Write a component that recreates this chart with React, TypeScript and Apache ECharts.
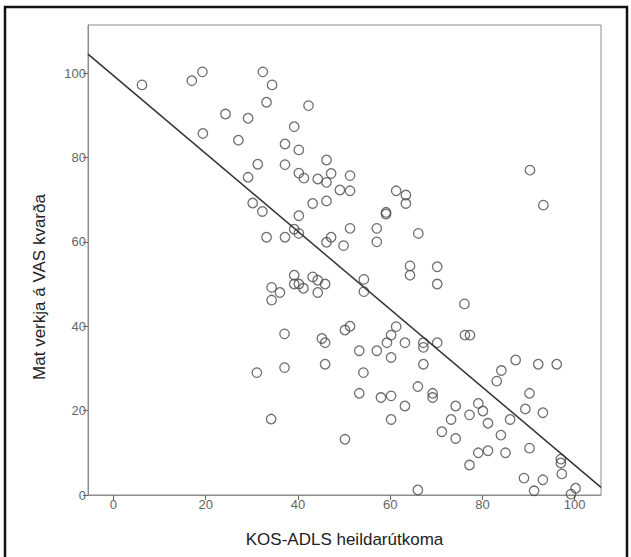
import React, { useEffect, useRef } from "react";
import * as echarts from "echarts";

const xTitle = "KOS-ADLS heildarútkoma";
const yTitle = "Mat verkja á VAS kvarða";
const xTicks = [0, 20, 40, 60, 80, 100];
const yTicks = [0, 20, 40, 60, 80, 100];

const kosAdls = [
  6.2, 17.0, 19.3, 19.4, 24.3, 27.1, 29.2, 29.2, 30.2, 31.3, 32.3, 32.4, 33.2, 34.4, 33.2,
  37.2, 37.2, 37.2, 39.2, 39.2, 40.2, 40.2, 40.2, 40.2, 41.3, 42.3, 43.2, 44.3, 46.2, 46.2,
  46.2, 46.2, 47.2, 47.2, 49.1, 49.9, 51.3, 51.3, 51.3, 57.1, 57.1, 59.1, 59.1, 61.3, 63.4,
  63.4, 66.1, 64.3, 64.3, 70.2, 70.2, 54.3, 54.3, 76.1, 90.3, 93.2,
  39.2, 39.2, 40.2, 41.2, 43.2, 44.3, 45.9, 44.3, 34.3, 36.1, 34.3, 37.1, 45.2, 45.9, 45.9,
  31.1, 37.1, 34.2, 50.2, 51.3, 53.3, 57.1, 59.3, 60.2, 61.3, 63.2, 67.2, 67.2, 70.2, 60.2,
  67.2, 54.2, 53.3, 58.0, 60.2, 66.0, 69.2, 69.2, 63.2, 60.2, 50.2, 76.2, 77.3,
  74.2, 73.2, 77.2, 79.1, 80.1, 81.2, 71.2, 74.2, 84.0, 86.0, 83.1, 84.1, 87.2, 92.1, 96.1,
  90.2, 89.3, 93.1, 79.1, 81.2, 85.0, 90.2, 77.2, 97.0, 97.0, 89.0, 93.1, 91.2, 97.2, 99.2,
  100.2, 66.0,
];

const vasPain = [
  97.2, 98.2, 100.3, 85.7, 90.3, 84.1, 89.3, 75.3, 69.2, 78.4, 67.2, 100.3, 93.1, 97.2, 61.1,
  83.2, 78.3, 61.1, 87.3, 63.0, 81.8, 76.3, 66.2, 62.0, 75.1, 92.3, 69.1, 74.9, 79.4, 74.1,
  69.7, 59.9, 76.2, 61.1, 72.3, 59.1, 75.7, 72.1, 63.2, 63.2, 60.0, 67.0, 66.6, 72.1, 71.1,
  69.1, 62.0, 54.3, 52.1, 54.1, 50.0, 51.1, 48.2, 45.3, 77.0, 68.7,
  52.1, 50.0, 50.0, 49.0, 51.7, 50.9, 50.0, 48.0, 49.2, 48.0, 46.2, 38.2, 37.1, 36.1, 31.0,
  29.0, 30.2, 18.0, 39.1, 40.0, 34.2, 34.2, 36.1, 37.9, 39.9, 36.1, 36.1, 35.0, 36.1, 32.6,
  31.0, 29.0, 24.1, 23.1, 23.5, 25.7, 24.1, 23.1, 21.1, 17.9, 13.2, 37.9, 37.9,
  21.1, 17.9, 19.0, 21.7, 19.9, 17.0, 15.0, 13.4, 14.2, 17.9, 27.0, 29.5, 32.0, 31.0, 31.0,
  24.1, 20.4, 19.5, 10.0, 10.5, 10.0, 11.1, 7.1, 8.5, 7.6, 4.0, 3.6, 1.0, 5.0, 0.2,
  1.6, 1.2,
];

const fitX = [-5.5, 105.7];
const fitY = [104.5, 1.8];

const FONT = "'Liberation Sans', Arial, sans-serif";

export default function App() {
  const ref = useRef<HTMLDivElement>(null);
  useEffect(() => {
    if (!ref.current) return;
    const chart = echarts.init(ref.current, null, { renderer: "svg" });
    const points = kosAdls.map((x, i) => [x, vasPain[i]]);
    const fit = fitX.map((x, i) => [x, fitY[i]]);
    chart.setOption({
      animation: false,
      backgroundColor: "#ffffff",
      grid: {
        left: 88,
        top: 25,
        width: 513,
        height: 470,
        show: true,
        borderColor: "#8c8c8c",
        borderWidth: 1,
        backgroundColor: "transparent",
      },
      xAxis: {
        type: "value",
        min: -5.5,
        max: 105.7,
        name: xTitle,
        nameLocation: "middle",
        nameGap: 36,
        nameTextStyle: { fontSize: 17, color: "#222", fontFamily: FONT },
        splitLine: { show: false },
        axisLine: { show: true, onZero: false, lineStyle: { color: "#8c8c8c", width: 1 } },
        axisTick: { show: true, length: 5, customValues: xTicks, lineStyle: { color: "#666" } },
        axisLabel: { customValues: xTicks, color: "#666", fontSize: 13, fontFamily: FONT, margin: 3 },
      },
      yAxis: {
        type: "value",
        min: 0,
        max: 111.4,
        splitLine: { show: false },
        axisLine: { show: true, onZero: false, lineStyle: { color: "#8c8c8c", width: 1 } },
        axisTick: { show: true, length: 5, customValues: yTicks, lineStyle: { color: "#666" } },
        axisLabel: { customValues: yTicks, color: "#666", fontSize: 13, fontFamily: FONT, margin: 2 },
      },
      graphic: [
        {
          type: "rect",
          shape: { x: 5, y: 7, width: 622, height: 570 },
          style: { fill: "none", stroke: "#111", lineWidth: 2.5 },
          silent: true,
        },
        {
          type: "text",
          x: 39,
          y: 287,
          rotation: Math.PI / 2,
          style: {
            text: yTitle,
            fill: "#222",
            font: "17px " + FONT,
            align: "center",
            verticalAlign: "middle",
          },
          silent: true,
        },
      ],
      series: [
        {
          type: "scatter",
          data: points,
          symbol: "circle",
          symbolSize: 9.5,
          itemStyle: { color: "rgba(255,255,255,0)", borderColor: "#4a4a4a", borderWidth: 1.3 },
        },
        {
          type: "line",
          data: fit,
          showSymbol: false,
          symbol: "none",
          clip: true,
          lineStyle: { color: "#333", width: 1.5 },
        },
      ],
    });
    return () => chart.dispose();
  }, []);
  return (
    <div
      ref={ref}
      style={{ position: "absolute", left: 0, top: 0, width: 631, height: 557 }}
    />
  );
}
